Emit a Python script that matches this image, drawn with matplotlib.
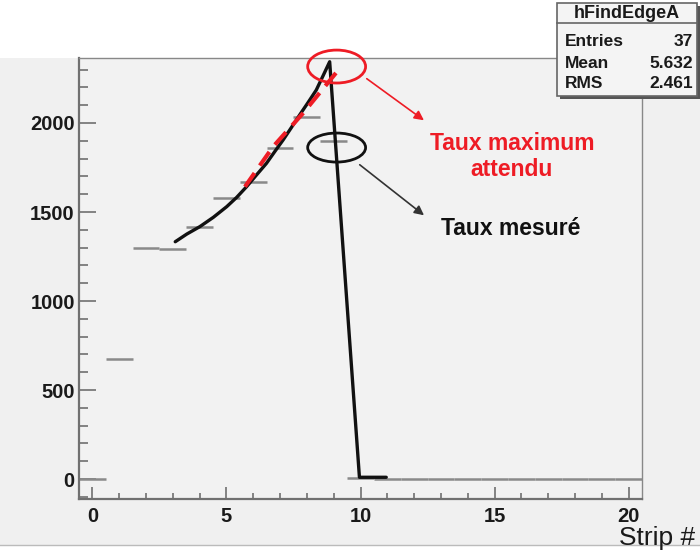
import matplotlib
matplotlib.use("Agg")
import matplotlib.pyplot as plt
from matplotlib.patches import Ellipse, Rectangle
from matplotlib.lines import Line2D
import numpy as np

plt.rcParams['font.family'] = ['Liberation Sans', 'DejaVu Sans']

# Histogram contents, one value per strip (bins centred on integers)
strips = np.arange(0, 21)
counts = [0, 675, 1300, 1295, 1418, 1580, 1670, 1861, 2036, 1901, 8,
          0, 0, 0, 0, 0, 0, 0, 0, 0, 0]

# Hand-drawn curve through the measured rate
measured_x = [3.09, 3.52, 4.01, 4.51, 5.01, 5.38, 5.75, 6.12, 6.49, 6.80, 7.11,
              7.42, 7.73, 8.04, 8.35, 8.60, 8.85, 9.96, 10.96]
measured_y = [1333, 1376, 1418, 1470, 1530, 1582, 1642, 1708, 1773, 1839, 1904,
              1974, 2045, 2114, 2185, 2264, 2344, 10, 10]

# Dashed extrapolation: expected maximum rate
expected_x = [5.69, 6.74, 7.85, 9.28]
expected_y = [1642, 1867, 2054, 2317]

stats_labels = ["Entries", "Mean", "RMS"]
stats_values = ["37", "5.632", "2.461"]

W, H = 700, 554
fig = plt.figure(figsize=(W / 100, H / 100), dpi=100, facecolor='white')

# grey pad behind the frame
fig.patches.append(Rectangle((0, 1 - 545 / H), 1, (545 - 58) / H, transform=fig.transFigure,
                             facecolor='#f0f0f0', edgecolor='none', zorder=-2))
fig.lines.append(Line2D([0, 1], [1 - 545 / H] * 2, transform=fig.transFigure, color='#bbbbbb',
                        lw=1, zorder=-1))

ax = fig.add_axes([79 / W, 1 - 499 / H, (642 - 79) / W, (499 - 58) / H])
ax.set_facecolor('#f2f2f2')

edges = np.append(strips - 0.5, strips[-1] + 0.5)
ax.hlines(counts, edges[:-1], edges[1:], color='#8a8a8a', lw=1.8, zorder=2)

ax.plot(measured_x, measured_y, color='#111111', lw=2.4, zorder=4,
        solid_capstyle='round', solid_joinstyle='round')
ax.plot(expected_x, expected_y, color='#ee1c25', lw=3, ls=(0, (4, 2.2)), zorder=5)

ax.set_xlim(-0.5, 20.5)
ax.set_ylim(-112, 2365)

ax.set_xticks([0, 5, 10, 15, 20])
ax.set_xticks(np.arange(0, 21), minor=True)
ax.set_yticks([0, 500, 1000, 1500, 2000])
ax.set_yticks(np.arange(-100, 2400, 100), minor=True)

for side in ['left', 'bottom']:
    ax.spines[side].set_color('#707070')
    ax.spines[side].set_linewidth(1.6)
for side in ['top', 'right']:
    ax.spines[side].set_color('#888888')
    ax.spines[side].set_linewidth(1.0)

ax.tick_params(axis='both', which='both', direction='in', color='#707070', width=1.2,
               labelsize=14.5, labelcolor='#1a1a1a')
ax.tick_params(axis='x', which='major', length=8.6, pad=6)
ax.tick_params(axis='x', which='minor', length=4.3)
ax.tick_params(axis='y', which='major', length=12, pad=3)
ax.tick_params(axis='y', which='minor', length=6.5)
for lbl in ax.get_xticklabels() + ax.get_yticklabels():
    lbl.set_fontweight('bold')

fig.text(695 / W, 1 - 538 / H, "Strip #", ha='right', va='center', fontsize=19, color='#1a1a1a')

# markers around the peak and the measured point
red = '#ee1c25'
ax.add_patch(Ellipse((9.11, 2317), 2.16, 185, fill=False, edgecolor=red, lw=2, clip_on=False, zorder=6))
ax.add_patch(Ellipse((9.11, 1862), 2.16, 163, fill=False, edgecolor='#111111', lw=2, clip_on=False, zorder=6))

ax.annotate("", xy=(12.45, 2006), xytext=(10.15, 2258),
            arrowprops=dict(arrowstyle='-|>', color=red, lw=1.2, mutation_scale=14))
ax.annotate("", xy=(12.45, 1472), xytext=(9.89, 1775),
            arrowprops=dict(arrowstyle='-|>', color='#333333', lw=1.2, mutation_scale=14))

ax.text(15.65, 1812, "Taux maximum\nattendu", ha='center', va='center', fontsize=16.5,
        fontweight='bold', color=red)
ax.text(15.61, 1410, "Taux mesuré", ha='center', va='center', fontsize=16.5,
        fontweight='bold', color='#111111')

# statistics box
bx0, bx1, by0, by1 = 557, 697, 3, 96
fig.patches.append(Rectangle(((bx0 + 3) / W, 1 - (by1 + 3) / H), (bx1 - bx0) / W, (by1 - by0) / H,
                             transform=fig.transFigure, facecolor='#555555', edgecolor='none', zorder=8))
fig.patches.append(Rectangle((bx0 / W, 1 - by1 / H), (bx1 - bx0) / W, (by1 - by0) / H,
                             transform=fig.transFigure, facecolor='#f4f4f4', edgecolor='#666666',
                             lw=1.2, zorder=9))
fig.lines.append(Line2D([bx0 / W, bx1 / W], [1 - 23 / H] * 2, transform=fig.transFigure,
                        color='#666666', lw=1.2, zorder=10))
fig.text((bx0 + bx1) / 2 / W, 1 - 13 / H, "hFindEdgeA", ha='center', va='center',
         fontsize=13, fontweight='bold', color='#1a1a1a', zorder=11)
for i, (name, val) in enumerate(zip(stats_labels, stats_values)):
    yy = 1 - (42 + 21 * i) / H
    fig.text(565 / W, yy, name, ha='left', va='center', fontsize=12.5, fontweight='bold',
             color='#1a1a1a', zorder=11)
    fig.text(693 / W, yy, val, ha='right', va='center', fontsize=12.5, fontweight='bold',
             color='#1a1a1a', zorder=11)

fig.savefig("out.png", dpi=100)
